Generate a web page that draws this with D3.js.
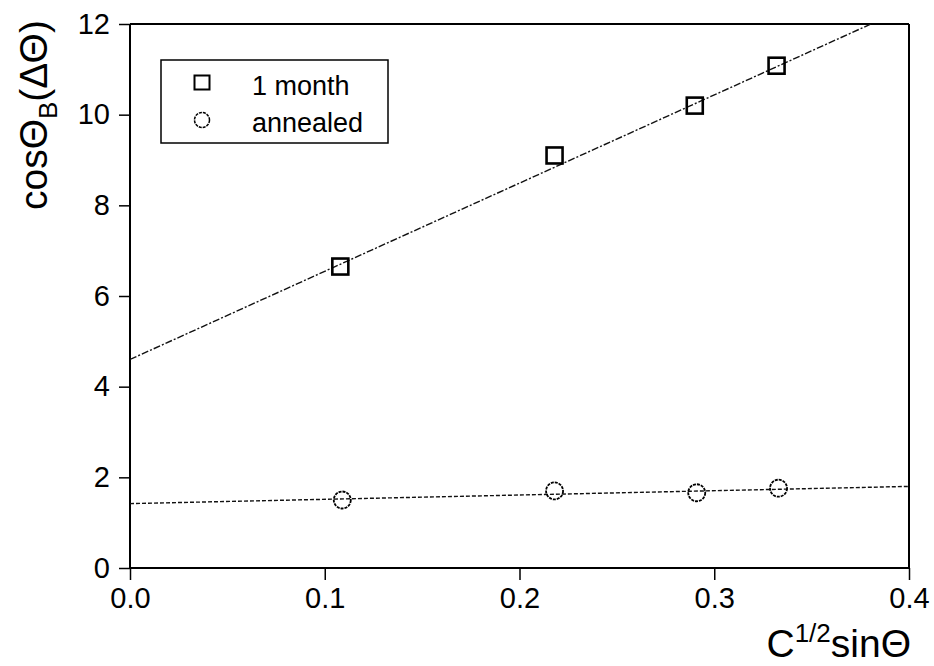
<!DOCTYPE html>
<html>
<head>
<meta charset="utf-8">
<script src="https://cdn.jsdelivr.net/npm/d3@7"></script>
<style>
  body { margin: 0; background: #fff; }
  svg text { font-family: "Liberation Sans", Arial, sans-serif; fill: #000; }
</style>
</head>
<body>
<svg id="chart" width="934" height="666"></svg>
<script>
// data
const monthX = [0.108, 0.218, 0.290, 0.332];
const monthY = [6.65, 9.10, 10.20, 11.08];
const annealX = [0.109, 0.218, 0.291, 0.333];
const annealY = [1.50, 1.70, 1.66, 1.76];
// linear fits: [intercept, slope]
const monthFit = [4.60, 19.45];
const annealFit = [1.42, 0.95];
const xTicks = [0.0, 0.1, 0.2, 0.3, 0.4];
const yTicks = [0, 2, 4, 6, 8, 10, 12];
const legendLabels = ["1 month", "annealed"];

const svg = d3.select("#chart");
const margin = { left: 130, right: 25, top: 24, bottom: 98 };
const W = 934, H = 666;

const x = d3.scaleLinear().domain([0, 0.4]).range([margin.left, W - margin.right]);
const y = d3.scaleLinear().domain([0, 12]).range([H - margin.bottom, margin.top]);

svg.append("clipPath").attr("id", "plotClip")
  .append("rect")
  .attr("x", x(0)).attr("y", y(12))
  .attr("width", x(0.4) - x(0)).attr("height", y(0) - y(12));

// axes
const xAxis = svg.append("g")
  .attr("transform", `translate(0,${y(0)})`)
  .call(d3.axisBottom(x).tickValues(xTicks).tickFormat(d3.format(".1f")).tickSize(12).tickPadding(7));
const yAxis = svg.append("g")
  .attr("transform", `translate(${x(0)},0)`)
  .call(d3.axisLeft(y).tickValues(yTicks).tickFormat(d3.format("d")).tickSize(11).tickPadding(9));

[xAxis, yAxis].forEach(a => {
  a.select(".domain").attr("stroke", "#000").attr("stroke-width", 2);
  a.selectAll(".tick line").attr("stroke", "#000").attr("stroke-width", 1.5);
  a.selectAll(".tick text").style("font-size", "29px");
});
yAxis.selectAll(".domain").attr("d", `M0,${y(0)}V${y(12)}`);
xAxis.selectAll(".domain").attr("d", `M${x(0)},0H${x(0.4)}`);

// top and right frame
svg.append("line").attr("x1", x(0)).attr("x2", x(0.4)).attr("y1", y(12)).attr("y2", y(12))
  .attr("stroke", "#000").attr("stroke-width", 2);
svg.append("line").attr("x1", x(0.4)).attr("x2", x(0.4)).attr("y1", y(12)).attr("y2", y(0))
  .attr("stroke", "#000").attr("stroke-width", 2);

// fit lines
const plot = svg.append("g").attr("clip-path", "url(#plotClip)");
plot.append("line")
  .attr("x1", x(0)).attr("y1", y(monthFit[0]))
  .attr("x2", x(0.4)).attr("y2", y(monthFit[0] + monthFit[1] * 0.4))
  .attr("stroke", "#111").attr("stroke-width", 1.4)
  .attr("stroke-dasharray", "7,2,2,2");
plot.append("line")
  .attr("x1", x(0)).attr("y1", y(annealFit[0]))
  .attr("x2", x(0.4)).attr("y2", y(annealFit[0] + annealFit[1] * 0.4))
  .attr("stroke", "#111").attr("stroke-width", 1.4)
  .attr("stroke-dasharray", "4,2");

// markers
const sq = 16;
svg.append("g").selectAll("rect")
  .data(monthX.map((d, i) => [d, monthY[i]]))
  .join("rect")
  .attr("x", d => x(d[0]) - sq / 2).attr("y", d => y(d[1]) - sq / 2)
  .attr("width", sq).attr("height", sq)
  .attr("fill", "none").attr("stroke", "#000").attr("stroke-width", 2.6);

svg.append("g").selectAll("circle")
  .data(annealX.map((d, i) => [d, annealY[i]]))
  .join("circle")
  .attr("cx", d => x(d[0])).attr("cy", d => y(d[1]))
  .attr("r", 8.5)
  .attr("fill", "none").attr("stroke", "#000").attr("stroke-width", 1.8)
  .attr("stroke-dasharray", "3,1");

// legend
const lg = svg.append("g");
lg.append("rect").attr("x", 161).attr("y", 60).attr("width", 227).attr("height", 83)
  .attr("fill", "#fff").attr("stroke", "#000").attr("stroke-width", 1.5);
lg.append("rect").attr("x", 202 - 7.5).attr("y", 83 - 7.5).attr("width", 15).attr("height", 14)
  .attr("fill", "none").attr("stroke", "#000").attr("stroke-width", 2);
lg.append("circle").attr("cx", 202).attr("cy", 120).attr("r", 7.5)
  .attr("fill", "none").attr("stroke", "#000").attr("stroke-width", 1.5)
  .attr("stroke-dasharray", "3,1");
lg.selectAll("text.lab").data(legendLabels).join("text")
  .attr("class", "lab")
  .attr("x", 252).attr("y", (d, i) => 95 + i * 37)
  .style("font-size", "27px")
  .text(d => d);

// axis titles
const xt = svg.append("text")
  .attr("x", 911).attr("y", 657).attr("text-anchor", "end")
  .style("font-size", "39px");
xt.append("tspan").text("C");
xt.append("tspan").attr("dy", -15).style("font-size", "26px").text("1/2");
xt.append("tspan").attr("dy", 15).text("sinΘ");

const yt = svg.append("text")
  .attr("transform", "translate(47,210) rotate(-90)")
  .attr("text-anchor", "start")
  .style("font-size", "39px");
yt.append("tspan").text("cosΘ");
yt.append("tspan").attr("dy", 10).style("font-size", "26px").text("B");
yt.append("tspan").attr("dy", -10).text("(ΔΘ)");
</script>
</body>
</html>
